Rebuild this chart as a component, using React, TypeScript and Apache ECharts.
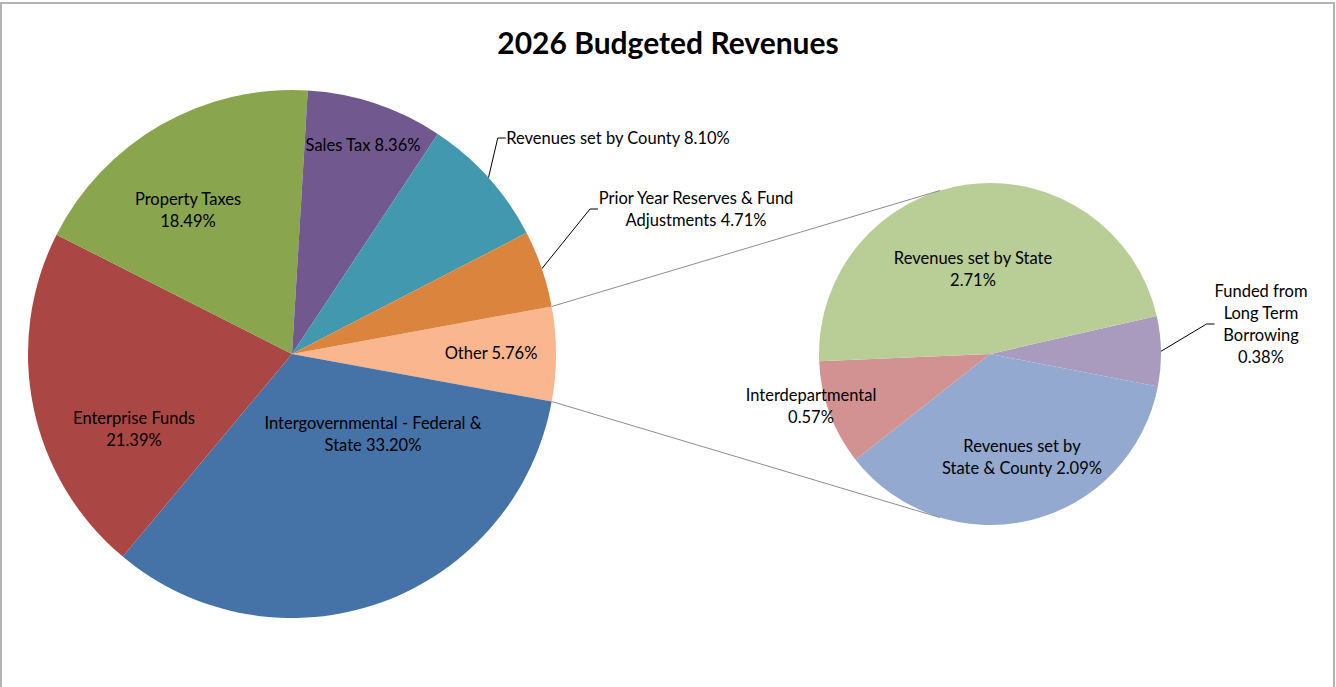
import React, { useEffect, useRef } from "react";
import * as echarts from "echarts";

// ---- Data ----
const mainCategories = [
  "Other",
  "Intergovernmental - Federal & State",
  "Enterprise Funds",
  "Property Taxes",
  "Sales Tax",
  "Revenues set by County",
  "Prior Year Reserves & Fund Adjustments",
];
const mainValues = [5.76, 33.2, 21.39, 18.49, 8.36, 8.1, 4.71];
const mainLabelNames = [
  "Other",
  "Intergovernmental - Federal &\nState",
  "Enterprise Funds",
  "Property Taxes",
  "Sales Tax",
  "Revenues set by County",
  "Prior Year Reserves & Fund\nAdjustments",
];
const mainLabelSep = [" ", " ", "\n", "\n", " ", " ", " "];
const mainColors = ["#F9B68F", "#4572A7", "#AA4643", "#89A54E", "#71588F", "#4198AF", "#DB843D"];

const subCategories = [
  "Funded from Long Term Borrowing",
  "Revenues set by State & County",
  "Interdepartmental",
  "Revenues set by State",
];
const subValues = [0.38, 2.09, 0.57, 2.71];
const subLabelNames = ["Funded from\nLong Term\nBorrowing", "Revenues set by\nState & County", "Interdepartmental", "Revenues set by State"];
const subLabelSep = ["\n", " ", "\n", "\n"];
const subColors = ["#A99BBD", "#93A9CF", "#D19291", "#B9CD96"];

// ---- Layout (pixels) ----
const W = 1336;
const H = 687;
const MAIN_C = [292, 354];
const MAIN_R = 264;
const SUB_C = [990, 354];
const SUB_R = 171;
const SUB_START = 12.8;
const CONNECT_ANGLE = 107;

const mainLabelPos: Record<number, [number, number]> = {
  0: [491, 353],
  1: [373, 434],
  2: [134, 429],
  3: [188, 210],
  4: [363, 145],
  5: [618, 138],
  6: [696, 209],
};
const subLabelPos: Record<number, [number, number]> = {
  0: [1261, 324],
  1: [1022, 457],
  2: [811, 406],
  3: [973, 269],
};
const outsideMain = new Set([5, 6]);
const outsideSub = new Set([0]);

const FONT = "Lato";

export default function App() {
  const ref = useRef<HTMLDivElement>(null);
  useEffect(() => {
    if (!ref.current) return;
    const chart = echarts.init(ref.current, undefined, { renderer: "svg" });
    const total = mainValues.reduce((a, b) => a + b, 0);
    const mainStart = ((360 * mainValues[0]) / total) / 2;
    const rad = (d: number) => (d * Math.PI) / 180;
    const pt = (c: number[], r: number, a: number) => [c[0] + r * Math.cos(rad(a)), c[1] - r * Math.sin(rad(a))];
    const pTop = pt(MAIN_C, MAIN_R, mainStart);
    const pBot = pt(MAIN_C, MAIN_R, -mainStart);
    const sTop = pt(SUB_C, SUB_R, CONNECT_ANGLE);
    const sBot = pt(SUB_C, SUB_R, -CONNECT_ANGLE);

    const labelStyle = {
      color: "#000",
      fontFamily: FONT,
      fontSize: 16.5,
      lineHeight: 22,
      align: "center" as const,
    };

    chart.setOption({
      animation: false,
      backgroundColor: "#fff",
      title: {
        text: "2026 Budgeted Revenues",
        left: "center",
        top: 22,
        textStyle: { fontFamily: FONT, fontSize: 30, fontWeight: "bold", color: "#000" },
      },
      graphic: [
        {
          type: "rect",
          shape: { x: 1, y: 3, width: W - 3, height: H + 10 },
          style: { fill: "none", stroke: "#B3B3B3", lineWidth: 2 },
          silent: true,
        },
        {
          type: "line",
          shape: { x1: pTop[0], y1: pTop[1], x2: sTop[0], y2: sTop[1] },
          style: { stroke: "#8C8C8C", lineWidth: 1 },
          z: 10,
        },
        {
          type: "line",
          shape: { x1: pBot[0], y1: pBot[1], x2: sBot[0], y2: sBot[1] },
          style: { stroke: "#8C8C8C", lineWidth: 1 },
          z: 10,
        },
      ],
      series: [
        {
          type: "pie",
          center: MAIN_C,
          radius: MAIN_R,
          startAngle: mainStart,
          clockwise: true,
          avoidLabelOverlap: false,
          itemStyle: { borderWidth: 0 },
          data: mainCategories.map((name, i) => ({
            name,
            value: mainValues[i],
            itemStyle: { color: mainColors[i] },
            label: {
              show: true,
              position: outsideMain.has(i) ? "outside" : "inside",
              formatter: () => `${mainLabelNames[i]}${mainLabelSep[i]}${mainValues[i].toFixed(2)}%`,
              ...labelStyle,
            },
            labelLine: {
              show: outsideMain.has(i),
              length: 10,
              length2: 8,
              lineStyle: { color: "#000", width: 1 },
            },
          })),
          labelLayout: (p: any) => {
            const pos = mainLabelPos[p.dataIndex];
            return { x: pos[0], y: pos[1], align: "center", verticalAlign: "middle" };
          },
        },
        {
          type: "pie",
          center: SUB_C,
          radius: SUB_R,
          startAngle: SUB_START,
          clockwise: true,
          avoidLabelOverlap: false,
          itemStyle: { borderWidth: 0 },
          data: subCategories.map((name, i) => ({
            name,
            value: subValues[i],
            itemStyle: { color: subColors[i] },
            label: {
              show: true,
              position: outsideSub.has(i) ? "outside" : "inside",
              formatter: () => `${subLabelNames[i]}${subLabelSep[i]}${subValues[i].toFixed(2)}%`,
              ...labelStyle,
            },
            labelLine: {
              show: outsideSub.has(i),
              length: 10,
              length2: 8,
              lineStyle: { color: "#000", width: 1 },
            },
          })),
          labelLayout: (p: any) => {
            const pos = subLabelPos[p.dataIndex];
            return { x: pos[0], y: pos[1], align: "center", verticalAlign: "middle" };
          },
        },
      ],
    });
    return () => chart.dispose();
  }, []);
  return <div ref={ref} style={{ position: "fixed", left: 0, top: 0, width: W, height: H }} />;
}
